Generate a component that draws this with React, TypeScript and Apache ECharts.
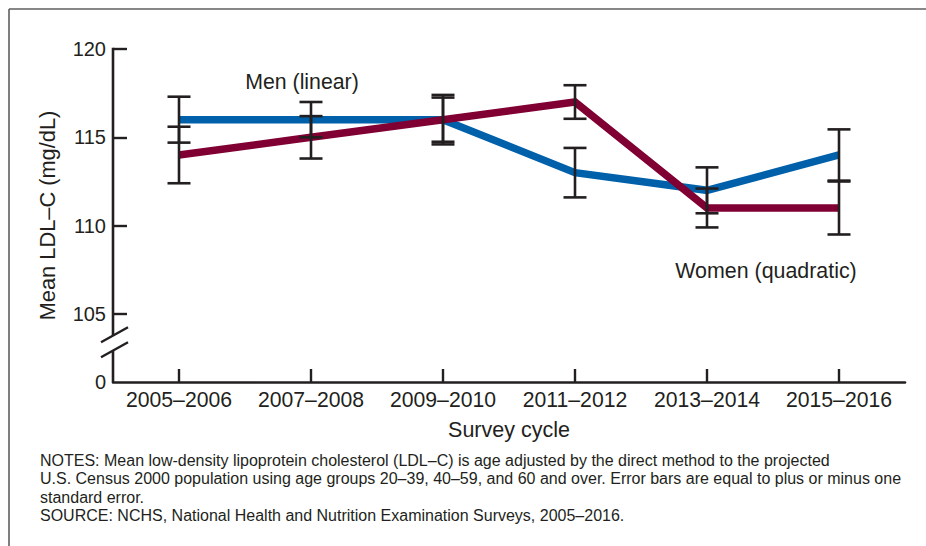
import React, { useEffect, useRef } from "react";
import * as echarts from "echarts";

// Survey cycles on the x axis
const cycles = ["2005–2006", "2007–2008", "2009–2010", "2011–2012", "2013–2014", "2015–2016"];

// Mean LDL-C (mg/dL) and standard errors
const menMeans = [116, 116, 116, 113, 112, 114];
const menSE = [1.3, 1.0, 1.25, 1.4, 1.3, 1.45];
const womenMeans = [114, 115, 116, 117, 111, 111];
const womenSE = [1.6, 1.2, 1.4, 0.95, 1.1, 1.5];

// Y axis tick values; the axis is broken below 105 and its base is labeled 0
const yTicks = [105, 110, 115, 120];
const yBaseLabel = "0";

const Y_MIN = 101.15;
const Y_MAX = 120;

const FONT = "'Liberation Sans', Arial, Helvetica, sans-serif";
const INK = "#231f20";
const BLUE = "#0060a9";
const MAROON = "#800034";

const notesLines = [
  "NOTES: Mean low-density lipoprotein cholesterol (LDL–C) is age adjusted by the direct method to the projected",
  "U.S. Census 2000 population using age groups 20–39, 40–59, and 60 and over. Error bars are equal to plus or minus one",
  "standard error.",
  "SOURCE: NCHS, National Health and Nutrition Examination Surveys, 2005–2016.",
];

const errorData = (means: number[], se: number[]) =>
  means.map((m, i) => [i, m - se[i], m + se[i]]);

const renderErrorBar = (params: any, api: any) => {
  const i = api.value(0);
  const lo = api.coord([i, api.value(1)]);
  const hi = api.coord([i, api.value(2)]);
  const half = 11.5;
  const style = { stroke: INK, lineWidth: 2.6, fill: "none" };
  return {
    type: "group",
    children: [
      { type: "line", shape: { x1: lo[0], y1: lo[1], x2: hi[0], y2: hi[1] }, style },
      { type: "line", shape: { x1: hi[0] - half, y1: hi[1], x2: hi[0] + half, y2: hi[1] }, style },
      { type: "line", shape: { x1: lo[0] - half, y1: lo[1], x2: lo[0] + half, y2: lo[1] }, style },
    ],
  };
};

export default function App() {
  const ref = useRef<HTMLDivElement>(null);

  useEffect(() => {
    if (!ref.current) return;
    const chart = echarts.init(ref.current, null, { renderer: "svg" });

    const option: any = {
      animation: false,
      backgroundColor: "#ffffff",
      textStyle: { fontFamily: FONT, color: INK },
      grid: { left: 113, right: 21, top: 49, bottom: 164, containLabel: false },
      xAxis: {
        type: "category",
        data: cycles,
        boundaryGap: true,
        name: "Survey cycle",
        nameLocation: "middle",
        nameGap: 37,
        nameTextStyle: { fontSize: 21.5, color: INK, fontFamily: FONT },
        axisLine: { show: true, lineStyle: { color: INK, width: 2.6 } },
        axisTick: {
          show: true,
          inside: true,
          length: 13,
          interval: 0,
          alignWithLabel: true,
          lineStyle: { color: INK, width: 2.4 },
        },
        axisLabel: { fontSize: 21.2, color: INK, fontFamily: FONT, margin: 7, interval: 0, hideOverlap: false },
        splitLine: { show: false },
      },
      yAxis: {
        type: "value",
        min: Y_MIN,
        max: Y_MAX,
        name: "Mean LDL–C (mg/dL)",
        nameLocation: "middle",
        nameGap: 55,
        nameRotate: 90,
        nameTextStyle: { fontSize: 21.8, color: INK, fontFamily: FONT },
        axisLine: { show: false },
        axisTick: {
          show: true,
          inside: true,
          length: 14,
          customValues: yTicks,
          lineStyle: { color: INK, width: 2.4 },
        },
        axisLabel: {
          fontSize: 20,
          color: INK,
          fontFamily: FONT,
          margin: 7,
          customValues: [Y_MIN, ...yTicks],
          formatter: (v: number) => (Math.abs(v - Y_MIN) < 0.01 ? yBaseLabel : String(Math.round(v))),
        },
        splitLine: { show: false },
      },
      series: [
        {
          name: "Men (linear)",
          type: "line",
          data: menMeans,
          symbol: "none",
          lineStyle: { color: BLUE, width: 7.5, join: "miter" },
          z: 2,
        },
        {
          name: "Women (quadratic)",
          type: "line",
          data: womenMeans,
          symbol: "none",
          lineStyle: { color: MAROON, width: 7.5, join: "miter" },
          z: 3,
        },
        {
          type: "custom",
          renderItem: renderErrorBar,
          data: errorData(menMeans, menSE),
          encode: { x: 0, y: [1, 2] },
          z: 5,
        },
        {
          type: "custom",
          renderItem: renderErrorBar,
          data: errorData(womenMeans, womenSE),
          encode: { x: 0, y: [1, 2] },
          z: 5,
        },
      ],
    };
    chart.setOption(option);

    // Broken y axis line drawn by hand, with the double-slash break marks
    const yTop = chart.convertToPixel({ yAxisIndex: 0 }, Y_MAX) as number;
    const yBase = chart.convertToPixel({ yAxisIndex: 0 }, Y_MIN) as number;
    const ax = 113;
    const breakHi = yBase - 46.5;
    const breakLo = yBase - 31.4;
    const slash = (cy: number) => ({
      type: "line",
      shape: { x1: ax - 12, y1: cy + 6.7, x2: ax + 15, y2: cy - 8.3 },
      style: { stroke: INK, lineWidth: 2.4 },
    });
    const axisStyle = { stroke: INK, lineWidth: 2.6 };

    chart.setOption({
      graphic: [
        // frame
        { type: "line", shape: { x1: 9, y1: 9, x2: 926, y2: 9 }, style: { stroke: "#5f5f5f", lineWidth: 1.6 } },
        { type: "line", shape: { x1: 9, y1: 9, x2: 9, y2: 546 }, style: { stroke: "#5f5f5f", lineWidth: 1.6 } },
        // y axis segments
        { type: "line", shape: { x1: ax, y1: yTop - 1.3, x2: ax, y2: breakHi }, style: axisStyle },
        { type: "line", shape: { x1: ax, y1: breakLo, x2: ax, y2: yBase }, style: axisStyle },
        slash(breakHi),
        slash(breakLo),
        // series annotations
        {
          type: "text",
          x: 302,
          y: 82,
          style: { text: "Men (linear)", fontSize: 21.3, fontFamily: FONT, fill: INK, align: "center", verticalAlign: "middle" },
        },
        {
          type: "text",
          x: 766,
          y: 271,
          style: { text: "Women (quadratic)", fontSize: 21.4, fontFamily: FONT, fill: INK, align: "center", verticalAlign: "middle" },
        },
        // notes
        ...notesLines.map((t, i) => ({
          type: "text",
          x: 40,
          y: 460 + i * 18.6,
          style: { text: t, fontSize: 16, fontFamily: FONT, fill: INK, align: "left", verticalAlign: "middle" },
        })),
      ],
    });

    return () => chart.dispose();
  }, []);

  return (
    <div
      ref={ref}
      style={{ position: "fixed", left: 0, top: 0, width: 926, height: 546, background: "#fff" }}
    />
  );
}
